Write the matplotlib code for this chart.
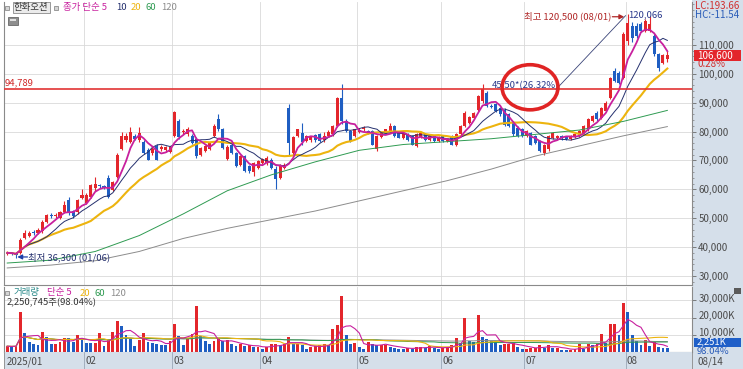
import numpy as np
import pandas as pd
import matplotlib
matplotlib.use('Agg')
import matplotlib.pyplot as plt
from matplotlib.patches import Rectangle, Ellipse
from matplotlib.ticker import MultipleLocator, FuncFormatter
from matplotlib.transforms import ScaledTranslation

plt.rcParams['font.family'] = ['Noto Sans CJK KR', 'DejaVu Sans']

# KRX trading days 2025-01-02 ~ 2025-08-14
krx_holidays = ['2025-01-27', '2025-01-28', '2025-01-29', '2025-01-30', '2025-03-03',
                '2025-05-01', '2025-05-05', '2025-05-06', '2025-06-03', '2025-06-06']
dates = pd.bdate_range('2025-01-02', '2025-08-14', freq='C', holidays=krx_holidays)

# 가격 (천원)
opens = [
    37.5, 38.0, 37.9, 37.8, 43.2, 44.0, 45.2, 45.0, 45.5, 48.8, 51.2, 50.8, 50.2, 52.2, 56.4, 52.5, 52.0, 57.0,
    55.4, 57.4, 60.5, 61.5, 61.0, 64.0, 59.9, 64.4, 73.8, 77.0, 76.5, 78.5, 77.0, 76.5, 73.7, 72.5, 75.0, 73.8, 73.5, 73.0,
    78.3, 83.5, 79.8, 79.0, 78.4, 77.5, 72.0, 73.2, 73.8, 78.4, 84.2, 80.7, 70.5, 75.5, 72.6, 68.5, 71.4, 68.0, 66.0, 67.4,
    69.0, 69.0, 70.3, 67.0, 64.0, 67.5, 88.0, 72.5, 78.4, 79.6, 76.6, 77.0, 78.8, 79.0, 77.0, 78.4, 79.0, 81.8, 91.5, 83.6, 80.1, 78.4,
    80.0, 80.7, 80.2, 80.1, 73.8, 78.0, 79.6, 80.1, 81.8, 79.5, 77.8, 79.0, 78.4, 75.0, 78.0, 79.0, 77.0, 78.4, 76.6,
    78.4, 76.6, 78.4, 75.5, 79.0, 81.8, 83.0, 84.8, 87.6, 90.5, 93.3, 88.8, 89.4, 88.2, 87.6, 85.9, 83.0, 81.3, 80.7,
    78.4, 79.5, 78.4, 76.6, 72.6, 73.8, 77.8, 77.8, 78.4, 78.2, 77.5, 78.0, 78.4, 79.5, 80.7, 83.6, 86.5, 84.8, 87.0, 91.7, 100.9, 100.3, 98.6,
    111.4, 116.6, 116.6, 117.2, 114.8, 114.8, 113.1, 106.7, 103.8, 105.0,
]
highs = [
    38.5, 38.4, 38.2, 43.0, 45.8, 45.5, 45.8, 46.5, 49.3, 51.5, 51.8, 51.8, 52.6, 56.0, 57.5, 53.0, 56.8, 60.0,
    58.6, 62.0, 64.4, 62.0, 61.5, 65.0, 63.0, 72.5, 80.0, 79.5, 81.5, 79.2, 81.5, 77.0, 74.2, 74.5, 75.8, 75.2, 75.0, 75.0,
    87.0, 84.2, 80.8, 81.5, 79.0, 78.0, 74.8, 75.5, 76.5, 82.5, 86.0, 81.2, 75.2, 76.0, 73.0, 71.8, 71.8, 68.5, 69.5, 70.0,
    70.8, 71.5, 70.8, 68.0, 68.8, 69.0, 89.5, 78.3, 81.0, 83.0, 78.8, 78.5, 79.3, 79.5, 80.0, 80.5, 82.2, 92.0, 96.5, 84.2, 80.5, 81.0,
    81.2, 81.8, 80.6, 80.6, 78.8, 80.0, 81.0, 82.9, 82.2, 80.0, 79.8, 79.4, 78.8, 79.4, 79.8, 79.4, 78.8, 78.8, 78.6,
    78.8, 77.6, 78.8, 79.4, 82.2, 87.0, 85.5, 86.8, 92.8, 96.3, 94.0, 89.5, 90.0, 88.6, 88.0, 86.3, 83.5, 81.8, 81.2,
    80.5, 80.0, 78.8, 77.0, 75.8, 78.8, 80.0, 78.8, 78.8, 78.6, 78.8, 79.4, 80.5, 82.2, 84.6, 85.8, 87.0, 88.6, 90.5, 99.0, 102.0, 100.8, 114.5,
    120.5, 118.0, 117.5, 118.0, 118.8, 120.0, 113.6, 107.2, 106.8, 108.0,
]
lows = [
    37.2, 37.4, 36.3, 37.5, 42.8, 43.5, 44.3, 44.6, 45.0, 48.3, 50.2, 50.2, 49.8, 51.8, 51.2, 50.2, 51.6, 56.6,
    55.0, 57.0, 59.5, 60.3, 60.0, 57.0, 59.5, 64.0, 73.5, 76.5, 76.0, 77.0, 76.5, 72.2, 70.0, 72.0, 70.0, 73.3, 73.0, 72.5,
    78.0, 77.5, 79.0, 78.5, 75.8, 70.8, 71.5, 72.8, 73.5, 78.0, 80.2, 74.0, 70.0, 72.2, 67.6, 68.2, 66.0, 65.8, 64.5, 67.0,
    68.6, 68.5, 67.0, 60.0, 63.5, 67.0, 72.0, 72.0, 78.0, 75.5, 76.2, 76.5, 76.5, 76.3, 76.5, 78.0, 78.6, 81.5, 82.5, 79.8, 76.2, 78.0,
    79.6, 80.2, 79.2, 75.2, 73.3, 77.6, 79.2, 79.7, 78.0, 77.6, 77.4, 76.8, 75.2, 74.6, 77.6, 76.6, 76.6, 76.4, 76.2,
    76.3, 76.2, 75.2, 75.0, 78.6, 81.4, 82.5, 84.3, 87.2, 90.0, 88.4, 88.0, 86.7, 85.5, 82.0, 81.4, 78.6, 78.0, 78.0,
    78.0, 75.2, 75.8, 72.8, 72.0, 73.4, 77.4, 77.4, 77.2, 77.0, 77.2, 77.6, 78.0, 79.2, 80.3, 83.2, 83.8, 84.4, 86.6, 91.3, 97.0, 96.5, 98.2,
    110.0, 111.0, 112.5, 114.3, 114.3, 114.3, 106.2, 101.0, 103.4, 104.0,
]
closes = [
    38.0, 37.9, 37.2, 42.5, 45.0, 45.0, 44.8, 45.8, 48.7, 51.0, 50.8, 51.2, 52.0, 54.6, 51.9, 50.8, 56.4, 58.0,
    58.0, 61.6, 61.8, 61.0, 60.5, 57.4, 62.6, 72.0, 78.3, 78.5, 80.0, 77.5, 79.5, 72.7, 70.3, 74.0, 70.3, 74.7, 74.5, 74.5,
    86.6, 78.0, 80.3, 81.0, 76.1, 71.5, 74.3, 74.9, 76.1, 81.8, 80.7, 74.3, 74.5, 72.6, 68.0, 71.4, 66.2, 66.2, 69.1, 69.7,
    70.5, 71.0, 67.5, 63.5, 68.5, 68.5, 76.0, 78.0, 80.7, 76.5, 78.4, 78.2, 77.0, 76.8, 78.4, 80.0, 81.8, 91.7, 83.5, 80.1, 76.6, 80.7,
    80.5, 81.2, 79.8, 75.5, 78.4, 79.6, 80.7, 81.8, 78.4, 77.8, 79.5, 77.2, 75.5, 79.0, 79.5, 77.0, 78.4, 76.6, 78.2,
    76.6, 77.2, 75.5, 79.0, 81.8, 86.5, 85.0, 86.5, 92.3, 94.6, 88.8, 88.5, 87.1, 85.9, 82.4, 81.8, 79.0, 78.4, 78.4,
    80.1, 75.5, 76.1, 73.2, 75.5, 78.4, 79.6, 78.4, 77.6, 77.5, 78.4, 79.0, 80.1, 81.8, 84.2, 85.3, 84.2, 88.2, 90.0, 98.6, 97.5, 96.9, 113.7,
    117.7, 112.5, 113.0, 114.8, 118.3, 117.2, 106.7, 102.1, 106.3, 106.6,
]
# 거래량 (백만주)
volumes = [
    3.5, 3.3, 3.6, 23.0, 11.0, 5.8, 4.6, 4.2, 11.8, 9.0, 4.8, 4.9, 6.0, 8.4, 8.2, 6.2, 10.0, 7.6,
    5.6, 5.2, 5.4, 11.2, 3.4, 7.0, 12.0, 18.0, 15.2, 10.2, 7.6, 3.6, 7.0, 11.0, 6.2, 5.6, 4.6, 4.5, 4.4, 6.6,
    16.5, 9.5, 4.0, 8.4, 10.4, 27.0, 9.5, 6.6, 4.6, 6.4, 8.4, 6.4, 7.0, 4.8, 3.4, 4.8, 3.8, 4.0, 3.1, 3.1,
    2.1, 3.1, 5.0, 5.0, 4.0, 5.0, 8.9, 5.0, 5.0, 4.0, 2.1, 3.1, 3.5, 4.0, 4.6, 4.0, 13.7, 15.6, 32.4, 9.8, 5.0, 5.4,
    3.1, 2.1, 6.0, 5.0, 4.0, 4.0, 4.4, 3.1, 2.5, 2.1, 2.0, 2.5, 2.1, 3.1, 3.2, 2.5, 3.5, 2.5, 2.1,
    2.6, 3.1, 4.0, 8.3, 5.4, 20.0, 6.4, 5.8, 21.4, 8.9, 7.5, 6.6, 6.0, 4.0, 5.0, 5.0, 5.4, 3.1, 2.1,
    2.1, 2.7, 2.7, 4.0, 2.7, 4.0, 2.7, 2.7, 1.5, 1.2, 1.2, 2.1, 4.6, 2.1, 4.6, 4.0, 4.6, 10.8, 5.4, 16.6, 16.6, 9.8, 28.7,
    23.3, 9.8, 6.4, 4.0, 6.9, 3.5, 6.0, 3.1, 2.2957, 2.250745,
]
# 60/120일 이평 (화면에서 읽은 값, 이전 데이터 없음)
ma_long_idx = [0, 10, 20, 30, 40, 50, 60, 70, 80, 90, 100, 110, 120, 130, 140, 150]
ma60_read = [34.5, 35.5, 38.5, 44.0, 51.5, 59.5, 65.0, 69.5, 73.5, 75.5, 76.5, 77.5, 79.0, 80.5, 83.5, 87.3]
ma120_read = [32.8, 33.8, 35.3, 38.5, 43.0, 46.5, 49.5, 52.5, 56.0, 59.5, 63.0, 67.0, 71.5, 75.0, 78.5, 81.7]

ref_level = 94.789
trend_start = (125.0, 95.05)
trend_end = (140.5, 120.066)

RED, BLUE = '#E3262B', '#1F5EC2'
C5, C10, C20, C60, C120 = '#C8209E', '#25306E', '#EDB40E', '#2F9B52', '#8C8C8C'
PANEL = '#D5DFEA'
GRID = '#D9D9D9'

W, H = 743, 369
fig = plt.figure(figsize=(W / 100, H / 100), dpi=100)


def fx(x):
    return x / W


def fy(y):
    return 1 - y / H


def frect(x0, y0, x1, y1, **kw):
    fig.add_artist(Rectangle((fx(x0), fy(y1)), fx(x1 - x0), (y1 - y0) / H,
                             transform=fig.transFigure, **kw))


def ftext(x, y, s, **kw):
    kw.setdefault('fontsize', 6.8)
    kw.setdefault('va', 'center')
    fig.text(fx(x), fy(y), s, **kw)


frect(692, 0, W, H, fc=PANEL, ec='none', zorder=-1)

ax_p = fig.add_axes([fx(4), fy(285), fx(688), 283 / H])
ax_v = fig.add_axes([fx(4), fy(352.3), fx(688), (352.3 - 287) / H])
ax_d = fig.add_axes([fx(4), 0, fx(688), (H - 352.3) / H])

o, h, l, c = map(np.array, (opens, highs, lows, closes))
v = np.array(volumes)
n = len(c)
x = np.arange(n)
xlim = (-0.73, 155.6)
month_starts = [i for i in range(n) if i == 0 or dates[i].month != dates[i - 1].month]

# --- 가격 ---
cols = np.where(c >= o, RED, BLUE)
ax_p.vlines(x, l, h, colors=cols, lw=0.8, zorder=2)
ax_p.bar(x, np.maximum(np.abs(c - o), 0.2), bottom=np.minimum(o, c), width=0.7,
         color=cols, lw=0, zorder=2)
cs = pd.Series(c)
ax_p.plot(x, cs.rolling(20, min_periods=1).mean(), color=C20, lw=1.5, zorder=3)
ax_p.plot(x, cs.rolling(10, min_periods=1).mean(), color=C10, lw=0.7, zorder=3)
ax_p.plot(x, cs.rolling(5, min_periods=1).mean(), color=C5, lw=1.3, zorder=4)
ax_p.plot(ma_long_idx, ma60_read, color=C60, lw=0.7, zorder=3)
ax_p.plot(ma_long_idx, ma120_read, color=C120, lw=0.7, zorder=3)

ax_p.axhline(ref_level, color='#E23434', lw=1.2, zorder=4)
ax_p.text(-0.5, ref_level + 2.0, f"{ref_level * 1000:,.0f}", color='#D02828',
          fontsize=6.8, va='center', ha='left')

ax_p.plot([trend_start[0], trend_end[0]], [trend_start[1], trend_end[1]],
          color='#3A4478', lw=0.6, zorder=4)
pct = (trend_end[1] / trend_start[1] - 1) * 100
ax_p.text(110.2, 95.9, f"45.50*({pct:.2f}%)", color='#2B3A8C', fontsize=6.8,
          va='center', ha='left', zorder=5)
ax_p.add_patch(Ellipse((118.8, 95.3), 12.7, 15.6, fill=False, ec='#E02424', lw=2.6, zorder=6))
ax_p.text(trend_end[0] + 0.6, trend_end[1] + 0.3, f"{trend_end[1] * 1000:,.0f}",
          color='#2B3A8C', fontsize=6.8, va='center', ha='left')

lo_i = int(np.argmin(l))
ax_p.annotate('', xy=(lo_i + 0.3, l[lo_i] + 0.3), xytext=(lo_i + 2.6, l[lo_i] + 0.3),
              arrowprops=dict(arrowstyle='-|>', color='#1F3FA8', lw=0.9,
                              mutation_scale=7, shrinkA=0, shrinkB=0))
ax_p.text(lo_i + 2.8, l[lo_i] + 0.3, f"최저 {l[lo_i] * 1000:,.0f} ({dates[lo_i]:%m/%d})",
          color='#25306E', fontsize=6.8, va='center', ha='left')

hi_i = int(np.argmax(h))
ax_p.annotate('', xy=(hi_i - 0.8, h[hi_i] - 0.8), xytext=(hi_i - 3.5, h[hi_i] - 0.8),
              arrowprops=dict(arrowstyle='-|>', color='#B02828', lw=0.9,
                              mutation_scale=7, shrinkA=0, shrinkB=0))
ax_p.text(hi_i - 3.7, h[hi_i] - 0.8, f"최고 {h[hi_i] * 1000:,.0f} ({dates[hi_i]:%m/%d})",
          color='#B02828', fontsize=6.8, va='center', ha='right')

ax_p.set_xlim(xlim)
ax_p.set_ylim(26.9, 124.8)
ax_p.set_xticks([])
ax_p.yaxis.tick_right()
ax_p.set_yticks(np.arange(30, 111, 10))
ax_p.yaxis.set_minor_locator(MultipleLocator(2))
ax_p.yaxis.set_major_formatter(FuncFormatter(lambda val, pos: f"{val * 1000:,.0f}"))

# --- 거래량 ---
vcols = [RED] + [RED if v[i] >= v[i - 1] else BLUE for i in range(1, n)]
ax_v.bar(x, v, width=0.65, color=vcols, lw=0, zorder=2)
vs = pd.Series(v)
ax_v.plot(x, vs.rolling(120, min_periods=1).mean(), color=C120, lw=0.7, zorder=3)
ax_v.plot(x, vs.rolling(60, min_periods=1).mean(), color=C60, lw=0.7, zorder=3)
ax_v.plot(x, vs.rolling(20, min_periods=1).mean(), color=C20, lw=0.8, zorder=3)
ax_v.plot(x, vs.rolling(5, min_periods=1).mean(), color=C5, lw=0.8, zorder=3)
ax_v.set_xlim(xlim)
ax_v.set_ylim(0, 37.7)
ax_v.set_xticks([])
ax_v.yaxis.tick_right()
ax_v.set_yticks([10, 20, 30])
ax_v.yaxis.set_major_formatter(FuncFormatter(lambda val, pos: f"{val * 1000:,.0f}K"))

for ax in (ax_p, ax_v):
    ax.grid(axis='y', color=GRID, lw=0.6, zorder=0)
    for m in month_starts[1:]:
        ax.axvline(m - 0.5, color=GRID, lw=0.6, zorder=0)
    ax.tick_params(axis='y', which='major', length=3, width=0.6, color='#6A6A6A',
                   labelsize=7, labelcolor='#4A4A4A', pad=1.5)
    ax.tick_params(axis='y', which='minor', length=1.5, width=0.5, color='#7A7A7A')
    ax.spines['top'].set_visible(False)
    for s in ('left', 'right', 'bottom'):
        ax.spines[s].set_color('#8A8A8A')
        ax.spines[s].set_linewidth(0.8)

# 거래량 눈금 글자는 선보다 약간 위
shift_up = ScaledTranslation(0, 0.028, fig.dpi_scale_trans)
for lab in ax_v.get_yticklabels():
    lab.set_transform(lab.get_transform() + shift_up)

# --- 날짜 ---
ax_d.set_facecolor(PANEL)
ax_d.set_xlim(xlim)
ax_d.set_ylim(0, 1)
ax_d.set_xticks([])
ax_d.set_yticks([])
for s in ax_d.spines.values():
    s.set_color('#8A8A8A')
    s.set_linewidth(0.6)
ax_d.spines['top'].set_visible(False)
for k, m in enumerate(month_starts):
    lab = f"{dates[m]:%Y/%m}" if k == 0 else f"{dates[m]:%m}"
    if k > 0:
        ax_d.axvline(m - 0.5, color='#9AA6B6', lw=0.6)
    ax_d.text(m - 0.5 + 0.3, 0.45, lab, fontsize=7, color='#4A4A4A', va='center', ha='left')

# --- 상단 범례 ---
frect(5, 5.5, 9, 9.5, fc='#D4D4D4', ec='#7A7A7A', lw=0.5)
ftext(14, 7.5, '한화오션', color='#333333',
      bbox=dict(boxstyle='square,pad=0.12', fc='#EBEBEB', ec='#8A8A8A', lw=0.6))
frect(54, 5.5, 58, 9.5, fc='#D4D4D4', ec='#7A7A7A', lw=0.5)
ftext(63, 7.5, '종가 단순 5', color=C5)
ftext(116, 7.5, '10', color=C10)
ftext(131, 7.5, '20', color=C20)
ftext(146, 7.5, '60', color=C60)
ftext(161, 7.5, '120', color=C120)
frect(8, 17, 18, 25, fc='#8E8E8E', ec='#555555', lw=0.5)
frect(10, 19, 16, 20.5, fc='#E0E0E0', ec='none')

frect(5, 291, 9, 295, fc='#D4D4D4', ec='#7A7A7A', lw=0.5)
ftext(14, 293, '거래량', color='#2A8A8A')
ftext(47, 293, '단순 5', color=C5)
ftext(80, 293, '20', color=C20)
ftext(94, 293, '60', color=C60)
ftext(110, 293, '120', color=C120)
ftext(7, 303, f"{v[-1] * 1e6:,.0f}주({v[-1] / v[-2] * 100:.2f}%)", color='#333333')

# --- 오른쪽 패널 ---
lc = (c[-1] / l.min() - 1) * 100
hc = (c[-1] / h.max() - 1) * 100
ftext(695, 6, f"LC:{lc:.2f}", color='#D03030', fontsize=7)
ftext(695, 14.5, f"HC:{hc:.2f}", color='#2A5CB8', fontsize=7)
frect(694, 50, 741, 61, fc=RED, ec='none', zorder=5)
ftext(697.5, 55.5, f"{c[-1] * 1000:,.0f}", color='white', fontsize=7, zorder=6)
ftext(697, 64, f"{(c[-1] / c[-2] - 1) * 100:.2f}%", color='#D03030', fontsize=7)
frect(734, 288, 741, 294, fc='#5A5A5A', ec='none')
frect(694, 337.5, 741, 346.5, fc='#1F5FC8', ec='none', zorder=5)
ftext(697, 342, f"{v[-1] * 1000:,.0f}K", color='white', fontsize=6.8, zorder=6)
ftext(697, 351, f"{v[-1] / v[-2] * 100:.2f}%", color='#2A5CB8', fontsize=6.8)
ftext(697, 361.5, f"{dates[-1]:%m/%d}", color='#4A4A4A', fontsize=7)

fig.savefig('out.png', dpi=100)
